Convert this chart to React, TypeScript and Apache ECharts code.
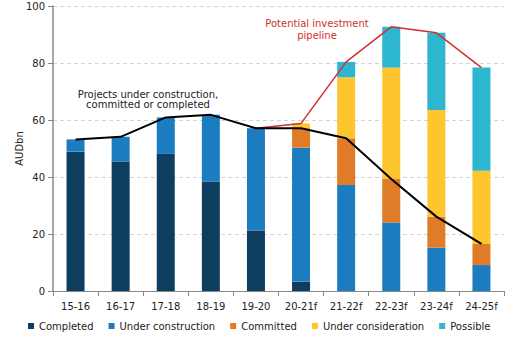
import React, { useEffect, useRef } from "react";
import * as echarts from "echarts";

const categories = ["15-16", "16-17", "17-18", "18-19", "19-20", "20-21f", "21-22f", "22-23f", "23-24f", "24-25f"];
const completed = [48.9, 45.4, 48.1, 38.4, 21.2, 3.3, null, null, null, null];
const underConstruction = [4.3, 8.7, 12.8, 23.4, 35.9, 47.0, 37.2, 24.0, 15.2, 9.1];
const committed = [null, null, null, null, null, 6.8, 16.4, 15.3, 10.9, 7.4];
const underConsideration = [null, null, null, null, null, 1.7, 21.4, 39.1, 37.4, 25.7];
const possible = [null, null, null, null, null, null, 5.4, 14.3, 27.1, 36.2];
const pipelineStart = 4;
const yTicks = { min: 0, max: 100, interval: 20 };

const FONT = "DejaVu Sans";
const colors = {
  completed: "#0e3d60",
  uc: "#1b7cc0",
  committed: "#e07b28",
  consideration: "#fdc52e",
  possible: "#2db6cf",
};

const v = (a: (number | null)[], i: number) => (a[i] == null ? 0 : (a[i] as number));
const committedTotal = categories.map((_, i) => +(v(completed, i) + v(underConstruction, i) + v(committed, i)).toFixed(1));
const pipelineTotal = categories.map((_, i) =>
  i < pipelineStart
    ? null
    : +(v(completed, i) + v(underConstruction, i) + v(committed, i) + v(underConsideration, i) + v(possible, i)).toFixed(1)
);

export default function App() {
  const ref = useRef<HTMLDivElement>(null);
  useEffect(() => {
    if (!ref.current) return;
    const chart = echarts.init(ref.current, null, { renderer: "svg" });
    const bar = (name: string, data: (number | null)[], color: string) => ({
      name,
      type: "bar",
      stack: "total",
      data,
      barWidth: 18,
      itemStyle: { color },
    });
    chart.setOption({
      animation: false,
      textStyle: { fontFamily: FONT },
      grid: { left: 53, right: 13, top: 6, bottom: 46 },
      legend: {
        data: ["Completed", "Under construction", "Committed", "Under consideration", "Possible"],
        left: 28,
        width: 490,
        bottom: 6,
        padding: 0,
        itemWidth: 6,
        itemHeight: 6,
        itemGap: 15,
        icon: "rect",
        textStyle: { fontFamily: FONT, fontSize: 10, color: "#222" },
      },
      xAxis: {
        type: "category",
        data: categories,
        axisLine: { lineStyle: { color: "#888" } },
        axisTick: { show: true, length: 5, lineStyle: { color: "#888" } },
        axisLabel: { fontFamily: FONT, fontSize: 10, color: "#222", margin: 10 },
      },
      yAxis: {
        type: "value",
        min: yTicks.min,
        max: yTicks.max,
        interval: yTicks.interval,
        name: "AUDbn",
        nameLocation: "middle",
        nameGap: 29,
        nameMoveOverlap: false,
        nameTextStyle: { fontFamily: FONT, fontSize: 10, color: "#222" },
        axisLine: { show: true, lineStyle: { color: "#888", width: 1.5 } },
        axisTick: { show: true, length: 5, lineStyle: { color: "#888" } },
        axisLabel: { fontFamily: FONT, fontSize: 10, color: "#222", margin: 8 },
        splitLine: { lineStyle: { color: "#d4d4d4", type: [4, 3] } },
      },
      series: [
        bar("Completed", completed, colors.completed),
        bar("Under construction", underConstruction, colors.uc),
        bar("Committed", committed, colors.committed),
        bar("Under consideration", underConsideration, colors.consideration),
        bar("Possible", possible, colors.possible),
        {
          name: "Pipeline",
          type: "line",
          data: pipelineTotal,
          symbol: "none",
          lineStyle: { color: "#d32f2f", width: 1.5 },
          z: 3,
        },
        {
          name: "Committed total",
          type: "line",
          data: committedTotal,
          symbol: "none",
          lineStyle: { color: "#000", width: 2 },
          z: 4,
        },
      ],
      graphic: [
        {
          type: "text",
          x: 148,
          y: 89,
          style: {
            text: "Projects under construction,\ncommitted or completed",
            font: `10px "${FONT}"`,
            fill: "#222",
            textAlign: "center",
            lineHeight: 10,
          },
        },
        {
          type: "text",
          x: 317,
          y: 17,
          style: {
            text: "Potential investment\npipeline",
            font: `10px "${FONT}"`,
            fill: "#d0312d",
            textAlign: "center",
            lineHeight: 12,
          },
        },
      ],
    });
    return () => chart.dispose();
  }, []);
  return <div ref={ref} style={{ width: 517, height: 337, position: "absolute", left: 0, top: 0 }} />;
}
